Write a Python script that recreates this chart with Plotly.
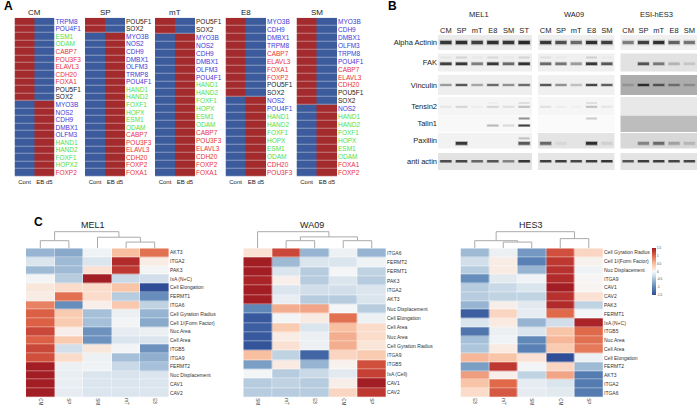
import plotly.graph_objects as go

W, H = 700, 408

# ---------- Panel A data ----------
A_TITLES = ["CM", "SP", "mT", "E8", "SM"]
CM_GENES = ["TRPM8","POU4F1","ESM1","ODAM","CABP7","POU3F3","ELAVL3","CDH20","FOXA1","POU5F1","SOX2",
            "MYO3B","NOS2","CDH9","DMBX1","OLFM3","HAND1","HAND2","FOXF1","HOPX2","FOXP2"]
SP_GENES = ["POU5F1","SOX2","MYO3B","NOS2","CDH9","DMBX1","OLFM3","TRMP8","POU4F1","HAND1","HAND2","FOXF1",
            "HOPX","ESM1","ODAM","CABP7","POU3F3","ELAVL3","CDH20","FOXP2","FOXA1"]
MT_GENES = ["POU5F1","SOX2","MYO3B","NOS2","CDH9","DMBX1","OLFM3","POU4F1","HAND1","HAND2","FOXF1","HOPX",
            "ESM1","ODAM","CABP7","POU3F3","ELAVL3","CDH20","FOXP2","FOXA1"]
E8_GENES = ["MYO3B","CDH9","DMBX1","TRPM8","CABP7","ELAVL3","FOXA1","FOXP2","POU5F1","SOX2","NOS2","POU4F1",
            "HAND1","HAND2","FOXF1","HOPX","ESM1","ODAM","CDH20","POU3F3"]
SM_GENES = ["MYO3B","CDH9","DMBX1","OLFM3","TRPM8","POU4F1","CABP7","ELAVL3","CDH20","POU5F1","SOX2","NOS2",
            "HAND1","HAND2","FOXF1","HOPX","ESM1","ODAM","FOXA1","FOXP2"]
A_GENES = [CM_GENES, SP_GENES, MT_GENES, E8_GENES, SM_GENES]
A_HIGH_IN_CONT = [11, 2, 2, 10, 11]
A_COLS = ["Cont", "EB d5"]
BLUE_GENES = ["TRPM8","TRMP8","POU4F1","MYO3B","NOS2","CDH9","DMBX1","OLFM3"]
GREEN_GENES = ["ESM1","ODAM","HAND1","HAND2","FOXF1","HOPX","HOPX2"]
RED_GENES = ["CABP7","POU3F3","ELAVL3","CDH20","FOXA1","FOXP2"]

# ---------- Panel B data ----------
PROTEINS = ["Alpha Actinin","FAK","Vinculin","Tensin2","Talin1","Paxillin","anti actin"]
B_TITLES = ["MEL1", "WA09", "ESI-hES3"]
MEL1_LANES = ["CM","SP","mT","E8","SM","ST"]
WA09_LANES = ["CM","SP","mT","E8","SM"]
HES3_LANES = ["CM","SP","mT","E8","SM"]
MEL1_BANDS = [[.9,.95,.85,.95,.9,1],[.85,.9,.5,.9,.6,.95],[.35,.7,.3,.6,.4,.6],[.05,.12,.03,.12,.08,.2],
              [0,0,0,.25,.12,.85],[0,.9,0,0,0,.7],[.75,.8,.6,.7,.45,.9]]
WA09_BANDS = [[.9,.75,.6,.95,.85],[.6,.55,.35,.9,.7],[.7,.4,.2,.8,.65],[.08,.03,.02,.2,.06],
              [0,0,0,0,0],[.6,.05,0,.95,.08],[.85,.85,.8,.85,.9]]
HES3_BANDS = [[.5,.85,.95,.65,.55],[0,.7,.5,.2,.12],[.15,.9,.6,.4,.2],[0,0,0,0,0],
              [0,0,0,0,0],[0,.4,.55,.25,.15],[.7,.85,.85,.8,.8]]
MEL1_UPPER = {1:[.04,.12,.03,.1,.03,.12], 3:[0,0,0,.03,0,.1], 4:[0,0,0,0,0,.45], 5:[0,0,0,0,0,.2]}
WA09_UPPER = {1:[.07,.03,0,.15,.03], 3:[0,0,0,.1,0], 4:[0,0,0,.2,0]}
HES3_UPPER = {}
MEL1_BG = ["#ebebeb","#efefef","#eeeeee","#f5f5f5","#f8f8f8","#f2f2f2","#e3e3e3"]
WA09_BG = ["#efefef","#f0f0f0","#f0f0f0","#f6f6f6","#fafafa","#e4e4e4","#e6e6e6"]
HES3_BG = ["#f0f0f0","#e2e2e2","#adadad","#e8e8e8","#bdbdbd","#d8d8d8","#e4e4e4"]

# ---------- Panel C data ----------
MEL1_COLS = ["CM","SP","SM","mT","E8"]
MEL1_ROWS = ["AKT3","ITGA2","PAK3","IxA (N+C)","Cell Elongation","FERMT1","ITGA6","Cell Gyration Radius",
             "Cell 1/(Form Factor)","Nuc Area","Cell Area","ITGB5","ITGA9","FERMT2","Nuc Displacement","CAV1","CAV2"]
MEL1_Z = [[-.6,-.7,-.05,.5,.95],[-.2,-.55,-.2,1.4,.1],[-.55,-.55,.2,1.3,-.03],[-.03,-.4,1.5,-.3,-.25],
          [.15,.25,.25,.45,-1.5],[.1,.95,.25,-.4,-.95],[.85,-.95,.07,.42,-.35],[1.05,.4,-.5,-.08,-.6],
          [1.05,.4,-.5,-.03,-.7],[1.2,.08,-.9,-.12,-.08],[1.05,.4,-.9,-.2,-.2],[1.2,-.25,.15,-.03,-.9],
          [1.15,.25,-.07,-.5,-.65],[1.5,-.08,-.05,-.3,-.5],[1.5,-.1,-.2,-.22,-.2],[1.5,-.1,-.2,-.2,-.2],[1.5,-.12,-.2,-.2,-.2]]
MEL1_TREE = ((0,1,22),(2,(3,4,18),32),48)

WA09_COLS = ["SM","mT","E8","CM","SP"]
WA09_ROWS = ["ITGA6","FERMT2","FERMT1","PAK3","ITGA2","AKT3","Nuc Displacement","Cell Elongation","Cell Area",
             "Nuc Area","Cell Gyration Radius","ITGA9","ITGB5","IxA (Cell)","CAV1","CAV2"]
WA09_Z = [[.2,1.2,-.6,-.07,-.6],[1.5,-.55,-.2,-.2,-.05],[1.5,-.2,-.4,-.02,-.35],[1.45,.07,-.4,-.2,-.4],
          [1.5,-.2,-.25,-.25,-.2],[1.5,-.1,-.4,-.4,-.2],[-1.0,.6,.65,-.02,-.4],[-1.4,-.03,.12,.95,-.07],
          [-1.35,.4,-.2,.5,.25],[-1.4,.1,-.08,.6,.25],[-1.45,.2,-.08,.6,.17],[.5,-.35,-1.3,.3,.4],
          [-.8,.12,-.6,.05,1.15],[-.02,-.4,-.3,-.15,1.25],[-.4,-.35,-.4,.08,1.5],[-.4,-.4,-.4,.3,1.3]]
WA09_TREE = (0,((1,2,22),(3,4,22),33),48)

HES3_COLS = ["E8","mT","SM","CM","SP"]
HES3_ROWS = ["Cell Gyration Radius","Cell 1/(Form Factor)","Nuc Displacement","ITGA9","CAV1","CAV2","PAK3","FERMT1",
             "IxA (N+C)","ITGB5","Nuc Area","Cell Area","Cell Elongation","FERMT2","AKT3","ITGA2","ITGA6"]
HES3_Z = [[-.55,-.08,-.85,1.15,.3],[-.25,.1,-1.05,1.3,.05],[-.4,.12,-.6,1.35,-.05],[-.95,-.15,-.05,1.4,.02],
          [-.4,-.3,-.2,1.5,.03],[-.4,-.35,-.35,1.35,.2],[-.6,.08,-.15,1.4,-.35],[-1.35,.3,-.12,1.0,-.02],
          [-.2,.12,-.6,-.25,1.45],[-1.15,-.08,-.2,.45,1.0],[-.5,-.05,-1.0,.55,.95],[-.45,.12,-1.05,.4,.9],
          [.55,.45,.2,-1.5,-.07],[-.8,1.3,-.03,.3,-.55],[.7,.07,-.35,.65,-1.1],[.45,1.0,-.12,-.2,-1.1],[.25,1.1,-.12,-.15,-1.1]]
HES3_TREE = ((0,(1,2,18),22),(3,4,28),48)

FONT = "Liberation Sans"
fig = go.Figure()
layout = {}
annots = []
shapes = []
counter = [0]


def new_axes(x0, x1, y0, y1, xopts=None, yopts=None):
    counter[0] += 1
    i = counter[0]
    base = dict(showgrid=False, zeroline=False, ticks="", showline=False, fixedrange=True)
    xa = dict(base, domain=[x0 / W, x1 / W], anchor=f"y{i}")
    ya = dict(base, domain=[1 - y1 / H, 1 - y0 / H], anchor=f"x{i}")
    xa.update(xopts or {})
    ya.update(yopts or {})
    layout[f"xaxis{i}"] = xa
    layout[f"yaxis{i}"] = ya
    return f"x{i}", f"y{i}"


def text(x, y, s, size, bold=False, anchor="center", color="#222"):
    annots.append(dict(xref="paper", yref="paper", x=x / W, y=1 - y / H, text=f"<b>{s}</b>" if bold else s,
                       showarrow=False, xanchor=anchor, yanchor="middle",
                       font=dict(size=size, color=color, family=FONT)))


def gene_color(g):
    if g in BLUE_GENES:
        return "#3b3bd6"
    if g in GREEN_GENES:
        return "#4fe04f"
    if g in RED_GENES:
        return "#e8323c"
    return "#222222"


# ---------- Panel A ----------
A_X = [(14.5, 54.5), (85, 125), (155, 195), (225.5, 266), (296.5, 337)]
for title, genes, hi, (x0, x1) in zip(A_TITLES, A_GENES, A_HIGH_IN_CONT, A_X):
    n = len(genes)
    z = [[1, 0] if r < hi else [0, 1] for r in range(n)]
    xa, ya = new_axes(x0, x1, 17.7, 176.5,
                      dict(tickmode="array", tickvals=[0, 1], ticktext=A_COLS, range=[-.5, 1.5],
                           tickfont=dict(size=6, color="#222", family=FONT), tickangle=0),
                      dict(tickmode="array", tickvals=list(range(n)),
                           ticktext=[f'<span style="color:{gene_color(g)}">{g}</span>' for g in genes],
                           range=[n - .5, -.5], side="right", tickfont=dict(size=6.5, family=FONT)))
    fig.add_trace(go.Heatmap(z=z, x=[0, 1], y=list(range(n)), xaxis=xa, yaxis=ya, showscale=False,
                             colorscale=[[0, "#3b5b9c"], [1, "#a32b2e"]], zmin=0, zmax=1, ygap=.4, hoverinfo="skip"))
    text((x0 + x1) / 2, 12.5, title, 8)
text(2, 6, "A", 12, True, "left", "#000")

# ---------- Panel B ----------
B_X = [(438, 532), (538, 614.5), (620.5, 697)]
B_ROWS = [(35, 50), (53.5, 71.5), (75, 95), (97, 115), (115.5, 132), (133, 148.5), (153, 170)]
B_THICK = [.42, .28, .2, .12, .12, .36, .2]
B_UPPER_OFFSET = [0, .55, 0, .35, .6, .3, 0]
B_OFFSET = [0, .15, 0, .1, .25, .35, 0]
B_SETS = [(MEL1_LANES, MEL1_BANDS, MEL1_UPPER, MEL1_BG), (WA09_LANES, WA09_BANDS, WA09_UPPER, WA09_BG),
          (HES3_LANES, HES3_BANDS, HES3_UPPER, HES3_BG)]
for p, ((lanes, bands, upper, bg), (x0, x1), title) in enumerate(zip(B_SETS, B_X, B_TITLES)):
    text((x0 + x1) / 2 - 6 if p == 0 else (x0 + x1) / 2 - 2, 15, title, 7.5)
    L = list(range(len(lanes)))
    for r, (protein, (y0, y1)) in enumerate(zip(PROTEINS, B_ROWS)):
        xopt = dict(range=[-.5, len(lanes) - .5], visible=False)
        if r == 0:
            xopt = dict(range=[-.5, len(lanes) - .5], side="top", tickmode="array", tickvals=L, ticktext=lanes,
                        tickfont=dict(size=7.5, color="#222", family=FONT), tickangle=0, ticklabelstandoff=0)
        yopt = dict(range=[1, -1], visible=False)
        if p == 0:
            yopt = dict(range=[1, -1], tickmode="array", tickvals=[0], ticktext=[protein],
                        tickfont=dict(size=7.5, color="#222", family=FONT))
        xa, ya = new_axes(x0, x1, y0, y1, xopt, yopt)
        shapes.append(dict(type="rect", xref=f"{xa} domain", yref=f"{ya} domain", x0=0, x1=1, y0=0, y1=1,
                           fillcolor=bg[r], line=dict(width=0), layer="below"))
        th = B_THICK[r]
        off = B_OFFSET[r]
        for halo, alpha, wid in ((th * 1.7, .3, .8), (th, .85, .72)):
            fig.add_trace(go.Bar(x=L, y=[halo] * len(L), base=off - halo / 2, width=wid, xaxis=xa, yaxis=ya,
                                 marker=dict(color="#111", opacity=[v * alpha for v in bands[r]], line=dict(width=0)),
                                 showlegend=False, hoverinfo="skip"))
        if r in upper:
            u = th * .8
            fig.add_trace(go.Bar(x=L, y=[u] * len(L), base=-B_UPPER_OFFSET[r] - u / 2, width=.7, xaxis=xa, yaxis=ya,
                                 marker=dict(color="#111", opacity=upper[r], line=dict(width=0)),
                                 showlegend=False, hoverinfo="skip"))
text(386, 6, "B", 12, True, "left", "#000")


# ---------- Panel C ----------
def tree_lines(node, xs, ys):
    if not isinstance(node, tuple):
        return node, 0
    lx, lh = tree_lines(node[0], xs, ys)
    rx, rh = tree_lines(node[1], xs, ys)
    h = node[2]
    xs += [lx, lx, rx, rx, None]
    ys += [lh, h, h, rh, None]
    return (lx + rx) / 2, h


C_SETS = [("MEL1", MEL1_COLS, MEL1_ROWS, MEL1_Z, MEL1_TREE, 26, 169, 93),
          ("WA09", WA09_COLS, WA09_ROWS, WA09_Z, WA09_TREE, 243.3, 386, 312),
          ("HES3", HES3_COLS, HES3_ROWS, HES3_Z, HES3_TREE, 460.5, 603, 531)]
CSCALE = [[0, "#2f4e97"], [.167, "#5f87b8"], [.333, "#a5c0d8"], [.433, "#dbe5ee"], [.5, "#f7f7f7"],
          [.583, "#fbdccb"], [.667, "#f8bfa0"], [.833, "#e0694a"], [.917, "#c53f35"], [1, "#a31d24"]]
for title, cols, rows, z, tree, x0, x1, tx in C_SETS:
    n = len(rows)
    xa, ya = new_axes(x0, x1, 248.3, 397.3,
                      dict(tickmode="array", tickvals=list(range(5)), ticktext=cols, range=[-.5, 4.5], tickangle=90,
                           tickfont=dict(size=4.5, color="#333", family=FONT)),
                      dict(tickmode="array", tickvals=list(range(n)), ticktext=rows, range=[n - .5, -.5], side="right",
                           tickfont=dict(size=5, color="#333", family=FONT)))
    fig.add_trace(go.Heatmap(z=z, x=list(range(5)), y=list(range(n)), xaxis=xa, yaxis=ya, coloraxis="coloraxis",
                             xgap=.4, ygap=.4, hoverinfo="skip"))
    xs, ys = [], []
    tree_lines(tree, xs, ys)
    xd, yd = new_axes(x0, x1, 231, 248.3, dict(range=[-.5, 4.5], visible=False), dict(range=[0, 50], visible=False))
    fig.add_trace(go.Scatter(x=xs, y=ys, mode="lines", line=dict(color="#aaaaaa", width=1), xaxis=xd, yaxis=yd,
                             showlegend=False, hoverinfo="skip"))
    text(tx, 225, title, 9)
text(32, 222, "C", 12, True, "left", "#000")

layout["coloraxis"] = dict(cmin=-1.5, cmax=1.5, colorscale=CSCALE,
                           colorbar=dict(x=652 / W, xanchor="left", y=1 - 271.5 / H, yanchor="middle", thickness=3.5,
                                         thicknessmode="pixels", len=47, lenmode="pixels", outlinewidth=0,
                                         tickmode="array", tickvals=[-1.5, -1, -.5, 0, .5, 1, 1.5],
                                         ticktext=["-1.5", "-1", "-0.5", "0", "0.5", "1", "1.5"],
                                         ticks="", tickfont=dict(size=3, color="#333", family=FONT), xpad=0, ypad=0))

fig.update_layout(width=W, height=H, margin=dict(l=0, r=0, t=0, b=0), paper_bgcolor="white", plot_bgcolor="white",
                  showlegend=False, barmode="overlay", annotations=annots, shapes=shapes, **layout)
fig.write_html("out.html", post_script="document.body.style.margin='0';document.body.style.overflow='hidden';",
               config=dict(displayModeBar=False))
